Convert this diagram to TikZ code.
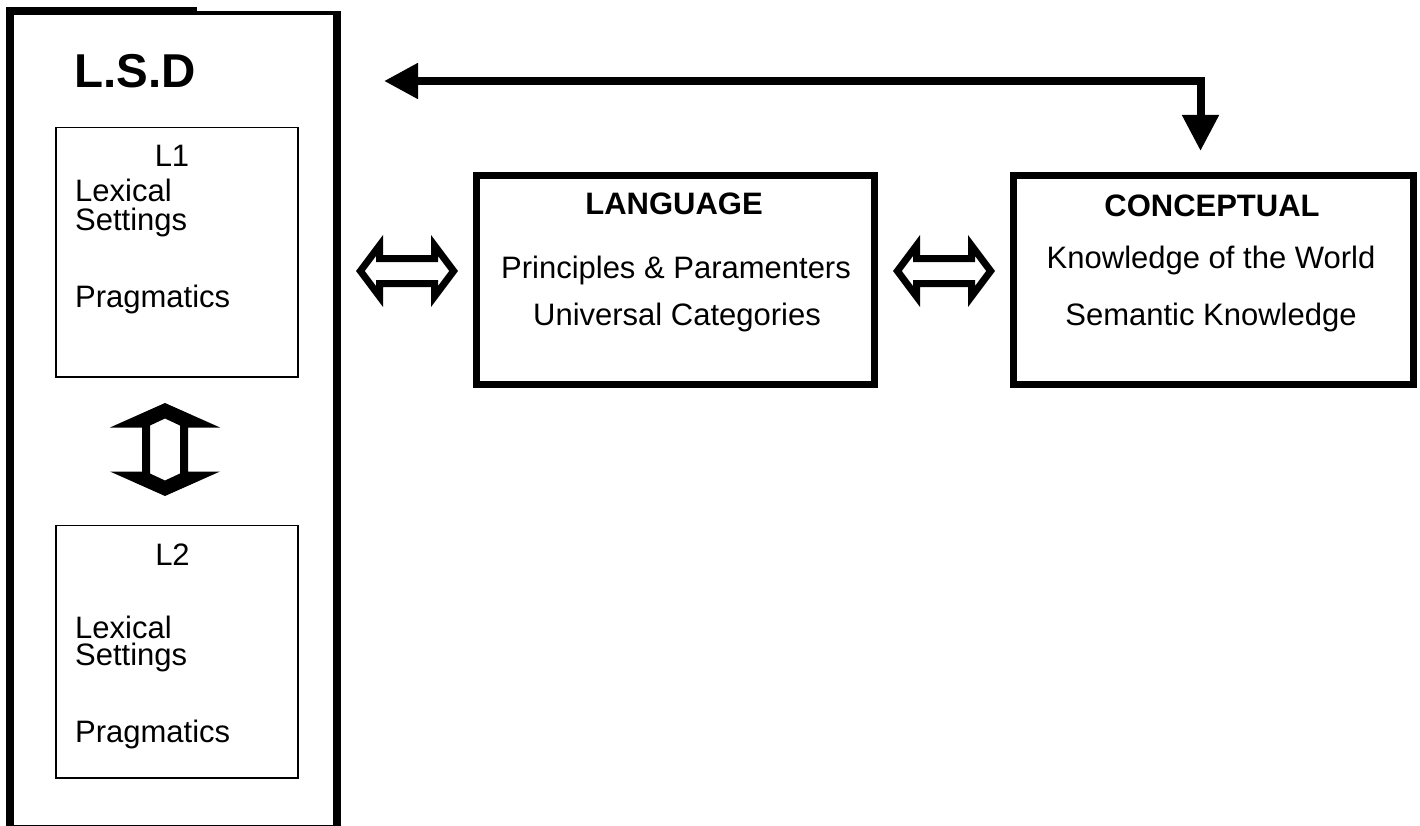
\documentclass[tikz,border=0pt]{standalone}
\usepackage{fontspec}
\setmainfont{Liberation Sans}
\usetikzlibrary{arrows.meta}
\begin{document}
\begin{tikzpicture}[x=1pt,y=-1pt,
  txt/.style={inner sep=0pt, font=\fontsize{31}{31}\selectfont},
  bigbox/.style={draw, line width=8pt, inner sep=0pt, outer sep=0pt},
  thickbox/.style={draw, line width=7pt, inner sep=0pt, outer sep=0pt},
  thinbox/.style={draw, line width=1.5pt, inner sep=0pt, outer sep=0pt},
  hollow/.style={fill=black, even odd rule}
]
\useasboundingbox (0,0) rectangle (1420,826);
\clip (0,0) rectangle (1420,826);

% frames
\node[bigbox, minimum width=327pt, minimum height=818pt] (lsd) at (173.5,420) {};
\fill[white] (197,-2) rectangle (346,11);
\node[thinbox, minimum width=242pt, minimum height=249.5pt] (l1box) at (177,252.25) {};
\node[thinbox, minimum width=242pt, minimum height=252.5pt] (l2box) at (177,651.75) {};
\node[thickbox, minimum width=398pt, minimum height=209pt] (lang) at (675.5,280) {};
\node[thickbox, minimum width=400pt, minimum height=209pt] (conc) at (1213.5,280) {};

% texts of the left column
\node[inner sep=0pt, anchor=base west, font=\fontsize{47.5}{47.5}\selectfont\bfseries] (lsdt) at (74.5,88) {L.S.D};
\node[txt, anchor=base] (l1t) at (172,166.5) {L1};
\node[txt, anchor=base west] (l1a) at (75,202) {Lexical};
\node[txt, anchor=base west] (l1b) at (75,230) {Settings};
\node[txt, anchor=base west] (l1c) at (75,307) {Pragmatics};
\node[txt, anchor=base] (l2t) at (172.5,565) {L2};
\node[txt, anchor=base west] (l2a) at (75,638) {Lexical};
\node[txt, anchor=base west] (l2b) at (75,665) {Settings};
\node[txt, anchor=base west] (l2c) at (75,742) {Pragmatics};

% texts of the two boxes
\node[txt, anchor=base, font=\fontsize{31}{31}\selectfont\bfseries] (langt) at (674,215) {LANGUAGE};
\node[txt, anchor=base] (langa) at (676,278) {Principles \& Paramenters};
\node[txt, anchor=base] (langb) at (677,325.5) {Universal Categories};
\node[txt, anchor=base, font=\fontsize{31}{31}\selectfont\bfseries] (conct) at (1212,216.5) {CONCEPTUAL};
\node[txt, anchor=base] (conca) at (1211,268.3) {Knowledge of the World};
\node[txt, anchor=base] (concb) at (1211,325) {Semantic Knowledge};

% hollow horizontal double arrows
\foreach \cx in {407,944}{
  \begin{scope}[shift={(\cx,271)}]
    \path[hollow]
      (-51,0) -- (-24,-36) -- (-24,-16) -- (24,-16) -- (24,-36) -- (51,0)
      -- (24,36) -- (24,16) -- (-24,16) -- (-24,36) -- cycle
      (-42.2,0) -- (-31,-15) -- (-31,-9) -- (31,-9) -- (31,-15) -- (42.2,0)
      -- (31,15) -- (31,9) -- (-31,9) -- (-31,15) -- cycle;
  \end{scope}
}

% hollow vertical double arrow between L1 and L2
\begin{scope}[shift={(165,449.5)}]
  \path[hollow]
    (0,-46.5) -- (55,-22) -- (23,-22) -- (23,22) -- (55,22) -- (0,46.5)
    -- (-55,22) -- (-23,22) -- (-23,-22) -- (-55,-22) -- cycle
    (0,-31) -- (15,-24) -- (15,24) -- (0,31) -- (-15,24) -- (-15,-24) -- cycle;
\end{scope}

% feedback arrow along the top
\coordinate (topleft) at (384,81);
\coordinate (topcorner) at (1200.5,81);
\coordinate (topdown) at (1200.5,151);
\draw[line width=8pt, line join=miter,
  {Triangle[length=34pt,width=34pt]}-{Triangle[length=36pt,width=35pt]}]
  (topleft) -- (topcorner) -- (topdown);
\end{tikzpicture}
\end{document}
